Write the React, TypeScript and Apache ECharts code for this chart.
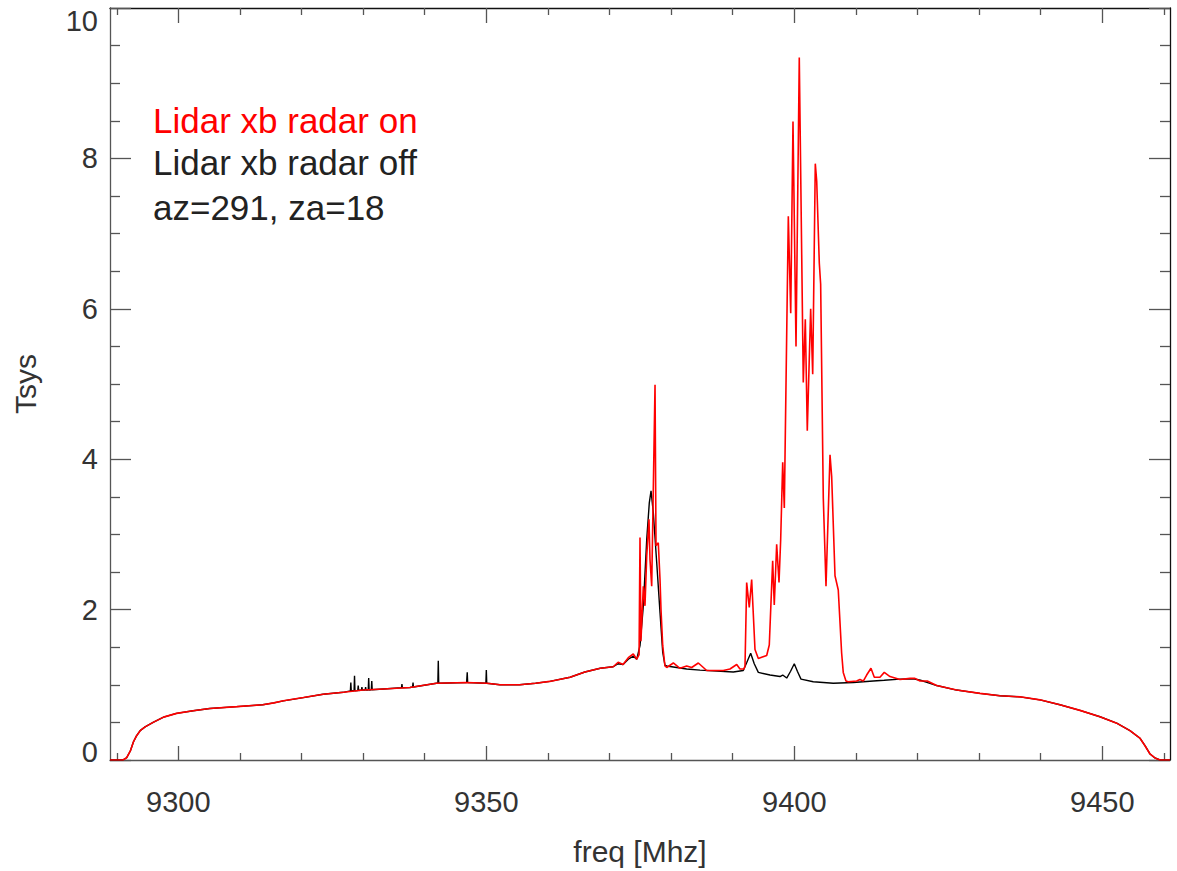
import React, { useEffect, useRef } from "react";
import * as echarts from "echarts";

// ---- axis settings / tick values ----
const X_MIN = 9288.9;
const X_MAX = 9461.0;
const X_MAJOR = [9300, 9350, 9400, 9450];
const X_MINOR = [9290, 9310, 9320, 9330, 9340, 9360, 9370, 9380, 9390, 9410, 9420, 9430, 9440, 9460];
const Y_MIN = 0;
const Y_MAX = 10;
const Y_STEP = 2;

// ---- shared baseline (both curves overlap) ----
const leftBase: [number, number][] = [
  [9288.9, 0.0], [9291.0, 0.0], [9291.6, 0.03], [9292.2, 0.12], [9292.7, 0.24],
  [9293.2, 0.32], [9293.8, 0.39], [9294.6, 0.44], [9295.9, 0.5], [9297.6, 0.57],
  [9299.7, 0.62], [9302.4, 0.655], [9305.1, 0.685], [9309.5, 0.71], [9313.7, 0.735],
  [9315.5, 0.76], [9317.05, 0.787], [9320.3, 0.83], [9323.5, 0.875], [9326.8, 0.9],
  [9330.0, 0.93], [9333.3, 0.945], [9337.6, 0.965], [9341.9, 1.02], [9346.8, 1.03],
  [9350.1, 1.02], [9352.2, 1.0], [9355.4, 1.0], [9358.0, 1.02], [9360.3, 1.045],
  [9363.6, 1.1], [9366.0, 1.17],
];

const rightBase: [number, number][] = [
  [9423.12, 0.99], [9426.36, 0.93], [9430.15, 0.886], [9433.39, 0.854], [9436.64, 0.84],
  [9439.89, 0.8], [9443.13, 0.735], [9446.38, 0.66], [9449.63, 0.575], [9452.34, 0.49],
  [9454.5, 0.39], [9456.12, 0.29], [9456.94, 0.19], [9457.75, 0.08], [9458.56, 0.027],
  [9459.37, 0.0], [9461.0, 0.0],
];

// ---- radar on (red) central part ----
const redMid: [number, number][] = [
  [9368.5, 1.22], [9370.6, 1.24], [9371.4, 1.3], [9372.2, 1.27], [9373.05, 1.36],
  [9373.86, 1.41], [9374.42, 1.34], [9374.8, 1.4], [9374.95, 2.96], [9375.1, 1.58],
  [9375.49, 2.31], [9375.76, 2.05], [9376.04, 2.71], [9376.41, 3.2], [9376.57, 2.67],
  [9376.85, 2.31], [9377.39, 4.99], [9377.55, 2.85], [9377.92, 2.89], [9378.2, 2.4],
  [9378.36, 2.0], [9378.64, 1.52], [9379.0, 1.25], [9379.29, 1.23], [9380.36, 1.29],
  [9381.44, 1.22], [9382.53, 1.25], [9383.34, 1.23], [9384.42, 1.29], [9385.78, 1.19],
  [9388.47, 1.19], [9389.56, 1.21], [9390.65, 1.27], [9391.18, 1.21], [9391.83, 1.21],
  [9392.0, 1.25], [9392.27, 2.36], [9392.69, 2.03], [9393.08, 2.4], [9393.62, 1.47],
  [9394.16, 1.35], [9395.52, 1.39], [9395.94, 1.53], [9396.49, 2.65], [9396.75, 2.06],
  [9397.14, 2.87], [9397.52, 2.36], [9397.79, 2.93], [9398.12, 3.96], [9398.38, 3.35],
  [9399.03, 7.23], [9399.42, 5.94], [9399.79, 8.49], [9400.28, 5.5], [9400.81, 9.34],
  [9401.46, 5.02], [9401.79, 5.86], [9402.11, 4.38], [9402.66, 6.0], [9402.99, 5.13],
  [9403.41, 7.93], [9403.64, 7.7], [9404.06, 6.61], [9404.28, 6.33], [9404.71, 3.48],
  [9405.15, 2.31], [9405.8, 4.06], [9406.07, 3.77], [9406.61, 2.45], [9407.14, 2.26],
  [9407.69, 1.42], [9407.95, 1.165], [9408.39, 1.05], [9408.77, 1.04], [9410.13, 1.05],
  [9410.66, 1.07], [9411.2, 1.05], [9411.75, 1.13], [9412.45, 1.22], [9412.99, 1.1],
  [9413.91, 1.1], [9414.61, 1.165], [9415.54, 1.11], [9417.16, 1.07], [9418.78, 1.085],
  [9419.59, 1.085], [9420.41, 1.05], [9421.59, 1.05],
];

// ---- radar off (black) central part ----
const blackMid: [number, number][] = [
  [9368.5, 1.22], [9370.6, 1.24], [9371.4, 1.28], [9372.2, 1.27], [9373.05, 1.34],
  [9373.86, 1.38], [9374.42, 1.34], [9374.95, 1.52], [9375.49, 2.05], [9376.04, 2.93],
  [9376.46, 3.42], [9376.74, 3.58], [9377.11, 3.29], [9377.66, 2.63], [9378.2, 1.96],
  [9378.64, 1.43], [9379.0, 1.26], [9379.29, 1.25], [9382.53, 1.21], [9384.69, 1.195],
  [9390.1, 1.17], [9391.72, 1.19], [9392.3, 1.3], [9392.92, 1.42], [9393.5, 1.28],
  [9394.16, 1.165], [9396.06, 1.13], [9397.68, 1.11], [9398.12, 1.13], [9398.77, 1.09],
  [9399.4, 1.18], [9400.0, 1.28], [9400.5, 1.18], [9401.09, 1.075], [9403.08, 1.04],
  [9406.33, 1.02], [9409.58, 1.03], [9412.82, 1.05], [9414.6, 1.06], [9417.16, 1.075],
  [9419.32, 1.08], [9420.5, 1.06], [9422.03, 1.02],
];

// narrow spikes in the radar-off curve: [freq, base, peak]
const blackSpikes: [number, number, number][] = [
  [9328.0, 0.92, 1.03], [9328.6, 0.92, 1.12], [9329.2, 0.925, 0.99], [9329.8, 0.93, 0.97],
  [9330.4, 0.93, 0.97], [9330.9, 0.93, 1.09], [9331.4, 0.935, 1.05], [9336.3, 0.96, 1.01],
  [9338.1, 0.97, 1.03], [9342.2, 1.02, 1.32], [9346.9, 1.03, 1.165], [9350.0, 1.02, 1.195],
];

const FONT = '"Liberation Sans", Arial, Helvetica, sans-serif';
const TXT = "#333333";

function buildBlack(): [number, number][] {
  const pts: [number, number][] = [...leftBase];
  blackSpikes.forEach(([f, b, p]) => {
    pts.push([f - 0.07, b], [f, p], [f + 0.07, b]);
  });
  pts.sort((a, b) => a[0] - b[0]);
  return [...pts, ...blackMid, ...rightBase];
}

function buildRed(): [number, number][] {
  return [...leftBase, ...redMid, ...rightBase];
}

export default function App() {
  const ref = useRef<HTMLDivElement>(null);
  useEffect(() => {
    document.body.style.margin = "0";
    if (!ref.current) return;
    const chart = echarts.init(ref.current, undefined, { renderer: "svg" });
    const xCommon = { type: "value" as const, min: X_MIN, max: X_MAX, splitLine: { show: false } };
    const yCommon = { type: "value" as const, min: Y_MIN, max: Y_MAX, interval: Y_STEP, splitLine: { show: false } };
    const labelStyle = { fontSize: 29, color: TXT, fontFamily: FONT };
    chart.setOption({
      animation: false,
      backgroundColor: "#ffffff",
      grid: { left: 110, right: 7, top: 8, bottom: 111, containLabel: false, outerBoundsMode: "none" },
      xAxis: [
        {
          ...xCommon,
          position: "bottom",
          axisLine: { show: true, lineStyle: { color: "#555", width: 1.3 } },
          axisTick: { show: true, inside: true, length: 14, customValues: X_MAJOR, lineStyle: { color: "#555", width: 1.3 } },
          axisLabel: { show: true, customValues: X_MAJOR, margin: 27, ...labelStyle, formatter: (v: number) => String(v) },
          name: "freq [Mhz]",
          nameLocation: "middle",
          nameGap: 76,
          nameTextStyle: { fontSize: 30, color: TXT, fontFamily: FONT },
        },
        {
          ...xCommon,
          position: "bottom",
          axisLine: { show: false },
          axisTick: { show: true, inside: true, length: 7, customValues: X_MINOR, lineStyle: { color: "#555", width: 1.3 } },
          axisLabel: { show: false },
        },
        {
          ...xCommon,
          position: "top",
          axisLine: { show: true, lineStyle: { color: "#111", width: 1.3 } },
          axisTick: { show: true, inside: true, length: 15, customValues: X_MAJOR, lineStyle: { color: "#555", width: 1.3 } },
          axisLabel: { show: false },
        },
        {
          ...xCommon,
          position: "top",
          axisLine: { show: false },
          axisTick: { show: true, inside: true, length: 7, customValues: X_MINOR, lineStyle: { color: "#555", width: 1.3 } },
          axisLabel: { show: false },
        },
      ],
      yAxis: [
        {
          ...yCommon,
          position: "left",
          axisLine: { show: true, lineStyle: { color: "#555", width: 1.3 } },
          axisTick: { show: true, inside: true, length: 21, lineStyle: { color: "#555", width: 1.3 } },
          minorTick: { show: true, splitNumber: 4, length: 10, lineStyle: { color: "#555", width: 1.3 } },
          axisLabel: {
            show: true,
            margin: 12,
            formatter: (v: number) => (v === 0 ? "{lo|0}" : v === 10 ? "{hi|10}" : "{n|" + v + "}"),
            rich: {
              n: { ...labelStyle },
              lo: { ...labelStyle, padding: [0, 0, 16, 0] },
              hi: { ...labelStyle, padding: [26, 0, 0, 0] },
            },
          },
          name: "Tsys",
          nameLocation: "middle",
          nameGap: 70,
          nameTextStyle: { fontSize: 30, color: TXT, fontFamily: FONT },
        },
        {
          ...yCommon,
          position: "right",
          axisLine: { show: true, lineStyle: { color: "#111", width: 1.3 } },
          axisTick: { show: true, inside: true, length: 21, lineStyle: { color: "#555", width: 1.3 } },
          minorTick: { show: true, splitNumber: 4, length: 10, lineStyle: { color: "#555", width: 1.3 } },
          axisLabel: { show: false },
        },
      ],
      graphic: [
        { type: "text", x: 153, y: 120.6, style: { text: "Lidar xb radar on", fill: "#ff0000", fontSize: 35, fontFamily: FONT, verticalAlign: "middle" } },
        { type: "text", x: 153, y: 162.9, style: { text: "Lidar xb radar off", fill: "#222222", fontSize: 35, fontFamily: FONT, verticalAlign: "middle" } },
        { type: "text", x: 153, y: 207.2, style: { text: "az=291, za=18", fill: "#222222", fontSize: 35, fontFamily: FONT, verticalAlign: "middle" } },
      ],
      series: [
        {
          type: "line",
          name: "Lidar xb radar off",
          xAxisIndex: 0,
          yAxisIndex: 0,
          data: buildBlack(),
          symbol: "none",
          silent: true,
          z: 2,
          lineStyle: { color: "#000000", width: 1.4 },
        },
        {
          type: "line",
          name: "Lidar xb radar on",
          xAxisIndex: 0,
          yAxisIndex: 0,
          data: buildRed(),
          symbol: "none",
          silent: true,
          z: 3,
          lineStyle: { color: "#ff0000", width: 1.6 },
        },
      ],
    });
    return () => chart.dispose();
  }, []);
  return <div ref={ref} style={{ width: 1177, height: 871 }} />;
}
